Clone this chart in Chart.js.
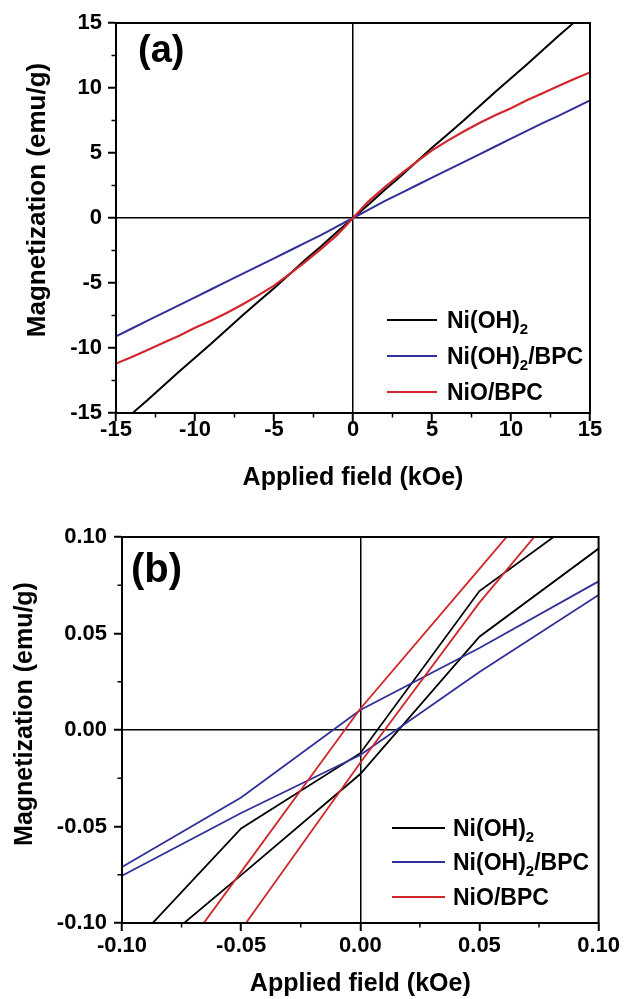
<!DOCTYPE html>
<html><head><meta charset="utf-8">
<script src="https://cdn.jsdelivr.net/npm/chart.js@4.4.1/dist/chart.umd.min.js"></script>
<style>
html,body{margin:0;padding:0;background:#fff;overflow:hidden;}
#pa{position:absolute;left:0;top:0;width:624px;height:500px;}
#pb{position:absolute;left:0;top:500px;width:624px;height:499px;}
</style></head><body>
<div id="pa"><canvas id="ca"></canvas></div>
<div id="pb"><canvas id="cb"></canvas></div>
<script>
// ---------- Panel (a) ----------
const fieldA = [-15,-14,-13,-12,-11,-10,-9,-8,-7,-6,-5,-4,-3,-2,-1,0,1,2,3,4,5,6,7,8,9,10,11,12,13,14,15];
const niohA = [-16.1,-15.05,-14.0,-12.9,-11.8,-10.75,-9.7,-8.6,-7.5,-6.45,-5.4,-4.3,-3.2,-2.15,-1.05,0,1.05,2.15,3.2,4.3,5.4,6.45,7.5,8.6,9.7,10.75,11.8,12.9,14.0,15.05,16.1];
const niohBpcA = [-9.1,-8.5,-7.9,-7.3,-6.7,-6.1,-5.5,-4.9,-4.3,-3.7,-3.1,-2.5,-1.9,-1.3,-0.65,0,0.65,1.3,1.9,2.5,3.1,3.7,4.3,4.9,5.5,6.1,6.7,7.3,7.85,8.45,9.05];
const nioBpcA = [-11.2,-10.7,-10.15,-9.6,-9.05,-8.45,-7.9,-7.3,-6.65,-5.95,-5.2,-4.3,-3.35,-2.35,-1.3,0,1.3,2.35,3.35,4.3,5.2,5.95,6.65,7.3,7.9,8.45,9.05,9.6,10.15,10.7,11.2];
const ticksA = [-15,-10,-5,0,5,10,15];
const tickLabelsA = ['-15','-10','-5','0','5','10','15'];
const minorA = [-12.5,-7.5,-2.5,2.5,7.5,12.5];

// ---------- Panel (b) ----------
const fieldB = [-0.1,-0.05,0,0.05,0.1];
const niohB1 = [-0.117,-0.051,-0.012,0.072,0.117];
const niohB2 = [-0.127,-0.0752,-0.0228,0.0483,0.094];
const niohBpcB1 = [-0.071,-0.035,0.0104,0.0425,0.077];
const niohBpcB2 = [-0.0755,-0.043,-0.013,0.030,0.070];
const nioBpcB1 = [-0.158,-0.0735,0.011,0.0835,0.156];
const nioBpcB2 = [-0.19,-0.1035,-0.017,0.066,0.140];
const ticksB = [-0.1,-0.05,0,0.05,0.1];
const tickLabelsB = ['-0.10','-0.05','0.00','0.05','0.10'];
const minorB = [-0.075,-0.025,0.025,0.075];

const seriesNames = ['Ni(OH)₂','Ni(OH)₂/BPC','NiO/BPC'];
const seriesColors = ['#000000','#30309a','#d0262c'];
const xTitle = 'Applied field (kOe)';
const yTitle = 'Magnetization (emu/g)';
const panelLabels = ['(a)','(b)'];

const FONT = '"Liberation Sans", Arial, Helvetica, sans-serif';
Chart.defaults.font.family = FONT;
Chart.defaults.font.weight = 'bold';
Chart.defaults.color = '#000';

function pts(xs, ys){ return xs.map((x,i)=>({x:x, y:ys[i]})); }

function drawRich(ctx, text, x, y, size){
  const parts = text.split('₂');
  let cx = x;
  parts.forEach((p,i)=>{
    ctx.font = 'bold '+size+'px '+FONT;
    ctx.fillText(p, cx, y);
    cx += ctx.measureText(p).width;
    if (i < parts.length-1){
      const s2 = Math.round(size*0.66);
      ctx.font = 'bold '+s2+'px '+FONT;
      ctx.fillText('2', cx, y + size*0.24);
      cx += ctx.measureText('2').width;
    }
  });
}

function decor(cfg){
  return {
    id:'decor',
    afterDraw(chart){
      const ctx = chart.ctx, a = chart.chartArea, xs = chart.scales.x, ys = chart.scales.y;
      ctx.save();
      ctx.strokeStyle = '#000';
      ctx.lineWidth = 2;
      ctx.strokeRect(a.left, a.top, a.right-a.left, a.bottom-a.top);
      ctx.lineWidth = 1.5;
      ctx.beginPath();
      cfg.minorX.forEach(v=>{ const p = xs.getPixelForValue(v); ctx.moveTo(p, a.bottom); ctx.lineTo(p, a.bottom+4.5); });
      cfg.minorY.forEach(v=>{ const p = ys.getPixelForValue(v); ctx.moveTo(a.left, p); ctx.lineTo(a.left-4.5, p); });
      ctx.stroke();
      ctx.fillStyle = '#000';
      ctx.textAlign = 'left';
      ctx.textBaseline = 'alphabetic';
      ctx.font = 'bold '+cfg.labelSize+'px '+FONT;
      ctx.fillText(cfg.label, a.left+cfg.labelDX, a.top+cfg.labelDY);
      ctx.save();
      ctx.translate(cfg.yTitleX, a.top+cfg.yTitleDY);
      ctx.rotate(-Math.PI/2);
      ctx.textAlign = 'center';
      ctx.textBaseline = 'middle';
      ctx.font = 'bold '+cfg.yTitleSize+'px '+FONT;
      ctx.fillText(yTitle, 0, 0);
      ctx.restore();
      ctx.lineWidth = 2;
      seriesNames.forEach((n,i)=>{
        const ly = a.top + cfg.legY[i];
        ctx.strokeStyle = seriesColors[i];
        ctx.beginPath();
        ctx.moveTo(a.left+cfg.legL0, ly); ctx.lineTo(a.left+cfg.legL1, ly);
        ctx.stroke();
        ctx.fillStyle = '#000';
        ctx.textAlign = 'left';
        ctx.textBaseline = 'alphabetic';
        drawRich(ctx, n, a.left+cfg.legT, ly+8, 23);
      });
      ctx.restore();
    }
  };
}

function scaleOpts(axis, vals, labels, min, max, o){
  return {
    type:'linear', min:min, max:max,
    afterBuildTicks: s => { s.ticks = vals.map(v=>({value:v})); },
    afterFit: s => { if (axis==='x') s.height = o.size; else s.width = o.size; },
    ticks:{ autoSkip:false, maxRotation:0, padding:o.pad, font:{size:22, weight:'bold', lineHeight:1.0}, color:'#000',
      callback:(v,i)=>labels[i] },
    grid:{ color: c => (c.tick && c.tick.value===0) ? '#000' : 'rgba(0,0,0,0)', lineWidth:1.5,
      tickColor:'#000', tickWidth:2, tickLength:8, drawTicks:true },
    border:{ display:true, color:'#000', width:2 },
    title: axis==='x' ? { display:true, text:xTitle, font:{size:25, weight:'bold', lineHeight:1.2}, color:'#000', padding:{top:0,bottom:o.titlePad} } : { display:false }
  };
}

function lineDs(label, data, color, w){
  return { label:label, data:data, showLine:true, borderColor:color, backgroundColor:color, borderWidth:w, pointRadius:0, fill:false, clip:0, tension:0 };
}

new Chart(document.getElementById('ca'), {
  type:'scatter',
  data:{ datasets:[
    lineDs(seriesNames[2], pts(fieldA, nioBpcA), seriesColors[2], 2.2),
    lineDs(seriesNames[1], pts(fieldA, niohBpcA), seriesColors[1], 2),
    lineDs(seriesNames[0], pts(fieldA, niohA), seriesColors[0], 2)
  ]},
  options:{
    responsive:true, maintainAspectRatio:false, animation:false, events:[],
    layout:{ padding:{ left:0, right:34, top:23, bottom:0 } },
    plugins:{ legend:{display:false}, tooltip:{enabled:false} },
    scales:{
      x: scaleOpts('x', ticksA, tickLabelsA, -15, 15, {size:87, pad:-2, titlePad:7}),
      y: scaleOpts('y', ticksA, tickLabelsA, -15, 15, {size:116, pad:6})
    }
  },
  plugins:[decor({minorX:minorA, minorY:minorA, label:panelLabels[0], labelSize:38, labelDX:22, labelDY:39,
    yTitleX:38, yTitleDY:177, yTitleSize:26, legY:[297,333,369], legL0:271, legL1:321, legT:331})]
});

new Chart(document.getElementById('cb'), {
  type:'scatter',
  data:{ datasets:[
    lineDs(seriesNames[2], pts(fieldB, nioBpcB1), seriesColors[2], 1.8),
    lineDs(seriesNames[2], pts(fieldB, nioBpcB2), seriesColors[2], 1.8),
    lineDs(seriesNames[1], pts(fieldB, niohBpcB1), seriesColors[1], 1.8),
    lineDs(seriesNames[1], pts(fieldB, niohBpcB2), seriesColors[1], 1.8),
    lineDs(seriesNames[0], pts(fieldB, niohB1), seriesColors[0], 1.8),
    lineDs(seriesNames[0], pts(fieldB, niohB2), seriesColors[0], 1.8)
  ]},
  options:{
    responsive:true, maintainAspectRatio:false, animation:false, events:[],
    layout:{ padding:{ left:0, right:23, top:37, bottom:0 } },
    plugins:{ legend:{display:false}, tooltip:{enabled:false} },
    scales:{
      x: scaleOpts('x', ticksB, tickLabelsB, -0.1, 0.1, {size:76, pad:4, titlePad:0}),
      y: scaleOpts('y', ticksB, tickLabelsB, -0.1, 0.1, {size:122, pad:7})
    }
  },
  plugins:[decor({minorX:minorB, minorY:minorB, label:panelLabels[1], labelSize:40, labelDX:9, labelDY:45,
    yTitleX:25, yTitleDY:177, yTitleSize:25, legY:[291,325,360], legL0:270, legL1:323, legT:331})]
});
</script>
</body></html>
